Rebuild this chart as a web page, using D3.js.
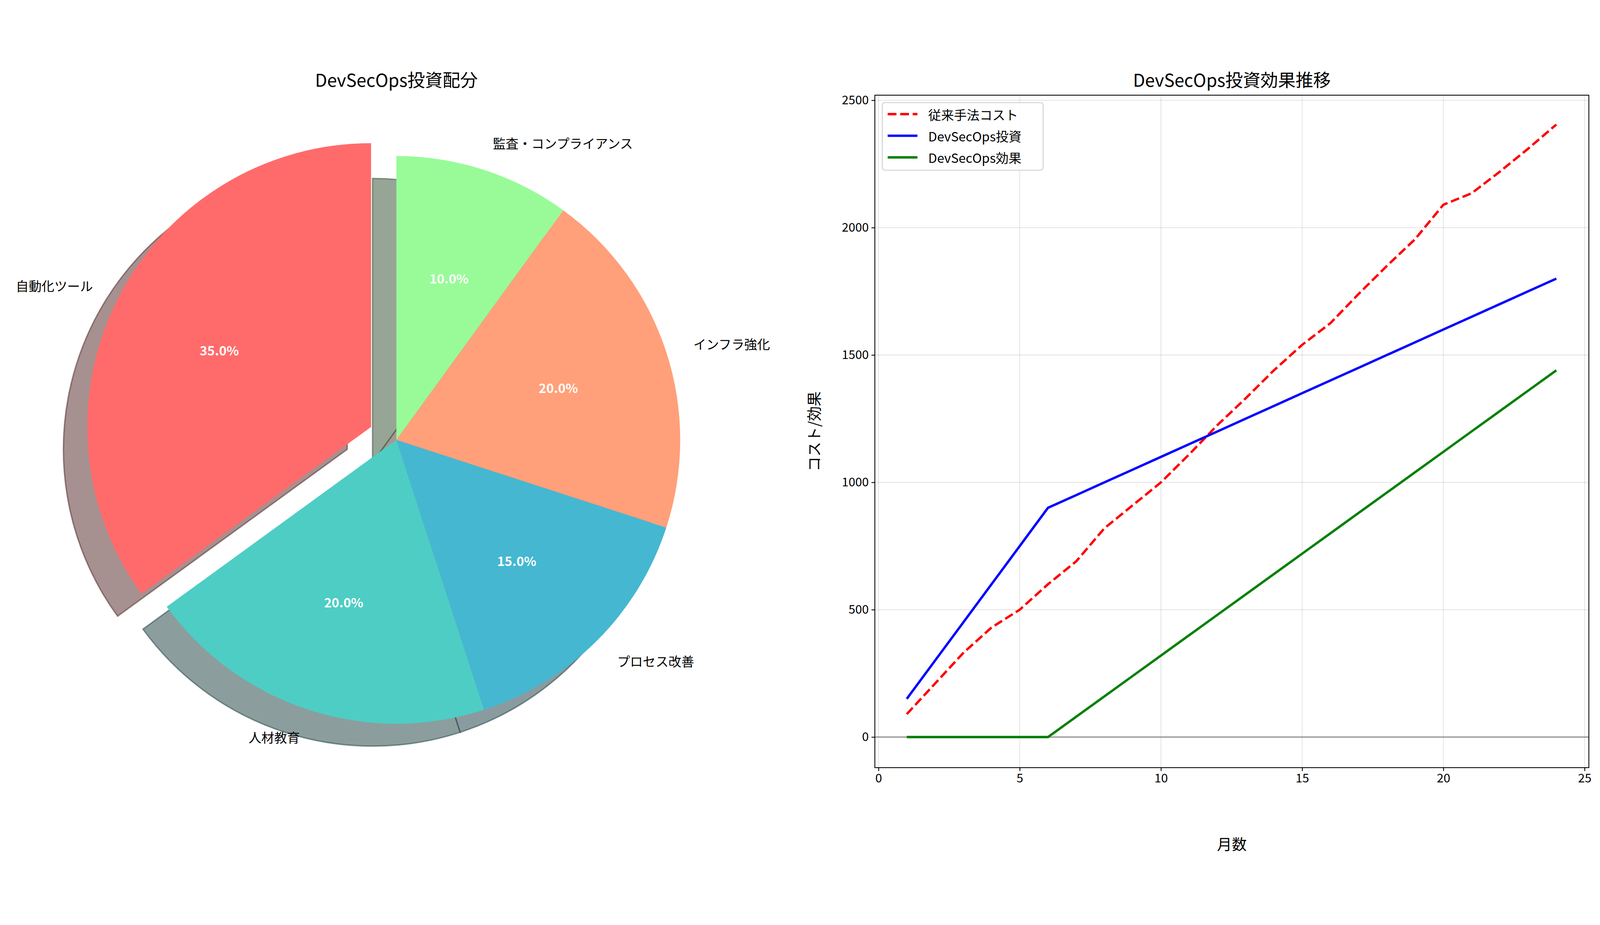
<!DOCTYPE html>
<html><head><meta charset="utf-8">
<script src="https://cdn.jsdelivr.net/npm/d3@7"></script>
<style>html,body{margin:0;padding:0;background:#fff;overflow:hidden}svg{display:block;width:100vw;height:100vh}text{font-family:"Noto Sans CJK JP","Noto Sans",sans-serif}</style>
</head><body><svg id="c" viewBox="0 0 4735 2368" preserveAspectRatio="xMidYMid meet"></svg>
<script>
const pieLabels=["自動化ツール","人材教育","プロセス改善","インフラ強化","監査・コンプライアンス"];
const pieValues=[35,20,15,20,10];
const pieColors=["#FF6B6B","#4ECDC4","#45B7D1","#FFA07A","#98FB98"];
const pieExplode=[0.1,0,0,0,0];
const months=d3.range(1,25);
const traditional=[90,210,330,430,500,600,690,820,910,1000,1110,1225,1330,1440,1540,1625,1740,1850,1955,2090,2135,2220,2310,2405];
const devInvest=[150,300,450,600,750,900,950,1000,1050,1100,1150,1200,1250,1300,1350,1400,1450,1500,1550,1600,1650,1700,1750,1800];
const devEffect=[0,0,0,0,0,0,80,160,240,320,400,480,560,640,720,800,880,960,1040,1120,1200,1280,1360,1440];
const xTicks=[0,5,10,15,20,25];
const yTicks=[0,500,1000,1500,2000,2500];

const svg=d3.select("#c");
// ---------- Pie ----------
const cx=1173,cy=1117,R=840;
const g=svg.append("g");
g.append("text").attr("x",cx).attr("y",72).attr("text-anchor","middle").attr("font-size",52).text("DevSecOps投資配分");
const pie=d3.pie().sort(null).startAngle(0).endAngle(-2*Math.PI).value(d=>d);
const arcs=pie(pieValues);
const arc=d3.arc().innerRadius(0).outerRadius(R);
function off(a,i){const m=(a.startAngle+a.endAngle)/2;const e=pieExplode[i]*R;return [Math.sin(m)*e,-Math.cos(m)*e];}
const sh=[-0.084*R,0.079*R];
arcs.forEach((a,i)=>{const o=off(a,i);const c=d3.rgb(pieColors[i]);
  const f=d3.rgb(0.5*0.3*c.r+127.5,0.5*0.3*c.g+127.5,0.5*0.3*c.b+127.5);
  g.append("path").attr("d",arc(a)).attr("transform",`translate(${cx+o[0]+sh[0]},${cy+o[1]+sh[1]})`)
   .attr("fill",f).attr("stroke",d3.rgb(c.r*0.3,c.g*0.3,c.b*0.3)).attr("stroke-opacity",0.5).attr("stroke-width",4);});
arcs.forEach((a,i)=>{const o=off(a,i);
  g.append("path").attr("d",arc(a)).attr("transform",`translate(${cx+o[0]},${cy+o[1]})`).attr("fill",pieColors[i]);});
arcs.forEach((a,i)=>{const o=off(a,i);const m=(a.startAngle+a.endAngle)/2;
  const sx=Math.sin(m),sy=-Math.cos(m);
  g.append("text").attr("x",cx+o[0]+sx*R*0.6).attr("y",cy+o[1]+sy*R*0.6).attr("text-anchor","middle").attr("dominant-baseline","central")
   .attr("font-size",38).attr("font-weight","bold").attr("fill","#fff").attr("font-family","DejaVu Sans").text(pieValues[i].toFixed(1)+"%");
  g.append("text").attr("x",cx+o[0]+sx*R*1.1).attr("y",cy+o[1]+sy*R*1.1).attr("text-anchor",sx<0?"end":"start").attr("dominant-baseline","central")
   .attr("font-size",38).text(pieLabels[i]);});

// ---------- Line ----------
const L=2589,Rt=4702,T=97,B=2087;
const x=d3.scaleLinear().domain([-0.13,25.15]).range([L,Rt]);
const y=d3.scaleLinear().domain([-120,2520]).range([B,T]);
const lg=svg.append("g");
lg.append("text").attr("x",(L+Rt)/2).attr("y",72).attr("text-anchor","middle").attr("font-size",52).text("DevSecOps投資効果推移");
lg.append("g").selectAll("line").data(xTicks).join("line").attr("x1",d=>x(d)).attr("x2",d=>x(d)).attr("y1",T).attr("y2",B).attr("stroke","#000").attr("stroke-opacity",0.1).attr("stroke-width",2.5);
lg.append("g").selectAll("line").data(yTicks).join("line").attr("y1",d=>y(d)).attr("y2",d=>y(d)).attr("x1",L).attr("x2",Rt).attr("stroke","#000").attr("stroke-opacity",0.1).attr("stroke-width",2.5);
lg.append("line").attr("x1",L).attr("x2",Rt).attr("y1",y(0)).attr("y2",y(0)).attr("stroke","#808080").attr("stroke-opacity",0.8).attr("stroke-width",4);
const line=d3.line().x((d,i)=>x(months[i])).y(d=>y(d));
lg.append("path").attr("d",line(traditional)).attr("fill","none").attr("stroke","#ff0000").attr("stroke-width",7).attr("stroke-dasharray","26 11");
lg.append("path").attr("d",line(devInvest)).attr("fill","none").attr("stroke","#0000ff").attr("stroke-width",7);
lg.append("path").attr("d",line(devEffect)).attr("fill","none").attr("stroke","#008000").attr("stroke-width",7);
lg.append("rect").attr("x",L).attr("y",T).attr("width",Rt-L).attr("height",B-T).attr("fill","none").attr("stroke","#000").attr("stroke-width",2.5);
const xa=lg.append("g").attr("transform",`translate(0,${B})`).call(d3.axisBottom(x).tickValues(xTicks).tickFormat(d3.format("d")).tickSize(10).tickPadding(8));
const ya=lg.append("g").attr("transform",`translate(${L},0)`).call(d3.axisLeft(y).tickValues(yTicks).tickFormat(d3.format("d")).tickSize(10).tickPadding(8));
[xa,ya].forEach(a=>{a.select(".domain").remove();a.selectAll("line").attr("stroke-width",2.5);a.selectAll("text").attr("font-size",36).attr("font-family","DejaVu Sans");});
lg.append("text").attr("x",(L+Rt)/2).attr("y",2330).attr("text-anchor","middle").attr("font-size",44).text("月数");
lg.append("text").attr("transform",`translate(2425,${(T+B)/2}) rotate(-90)`).attr("text-anchor","middle").attr("font-size",44).text("コスト/効果");
// legend
const leg=lg.append("g").attr("transform",`translate(${L+22},${T+22})`);
leg.append("rect").attr("width",476).attr("height",200).attr("rx",8).attr("fill","#fff").attr("fill-opacity",0.8).attr("stroke","#ccc").attr("stroke-width",2.5);
const items=[["従来手法コスト","#ff0000",true],["DevSecOps投資","#0000ff",false],["DevSecOps効果","#008000",false]];
items.forEach((it,i)=>{const yy=34+i*64;
  leg.append("line").attr("x1",16).attr("x2",104).attr("y1",yy).attr("y2",yy).attr("stroke",it[1]).attr("stroke-width",7).attr("stroke-dasharray",it[2]?"26 11":null);
  leg.append("text").attr("x",136).attr("y",yy).attr("dominant-baseline","central").attr("font-size",38).text(it[0]);});
</script></body></html>
